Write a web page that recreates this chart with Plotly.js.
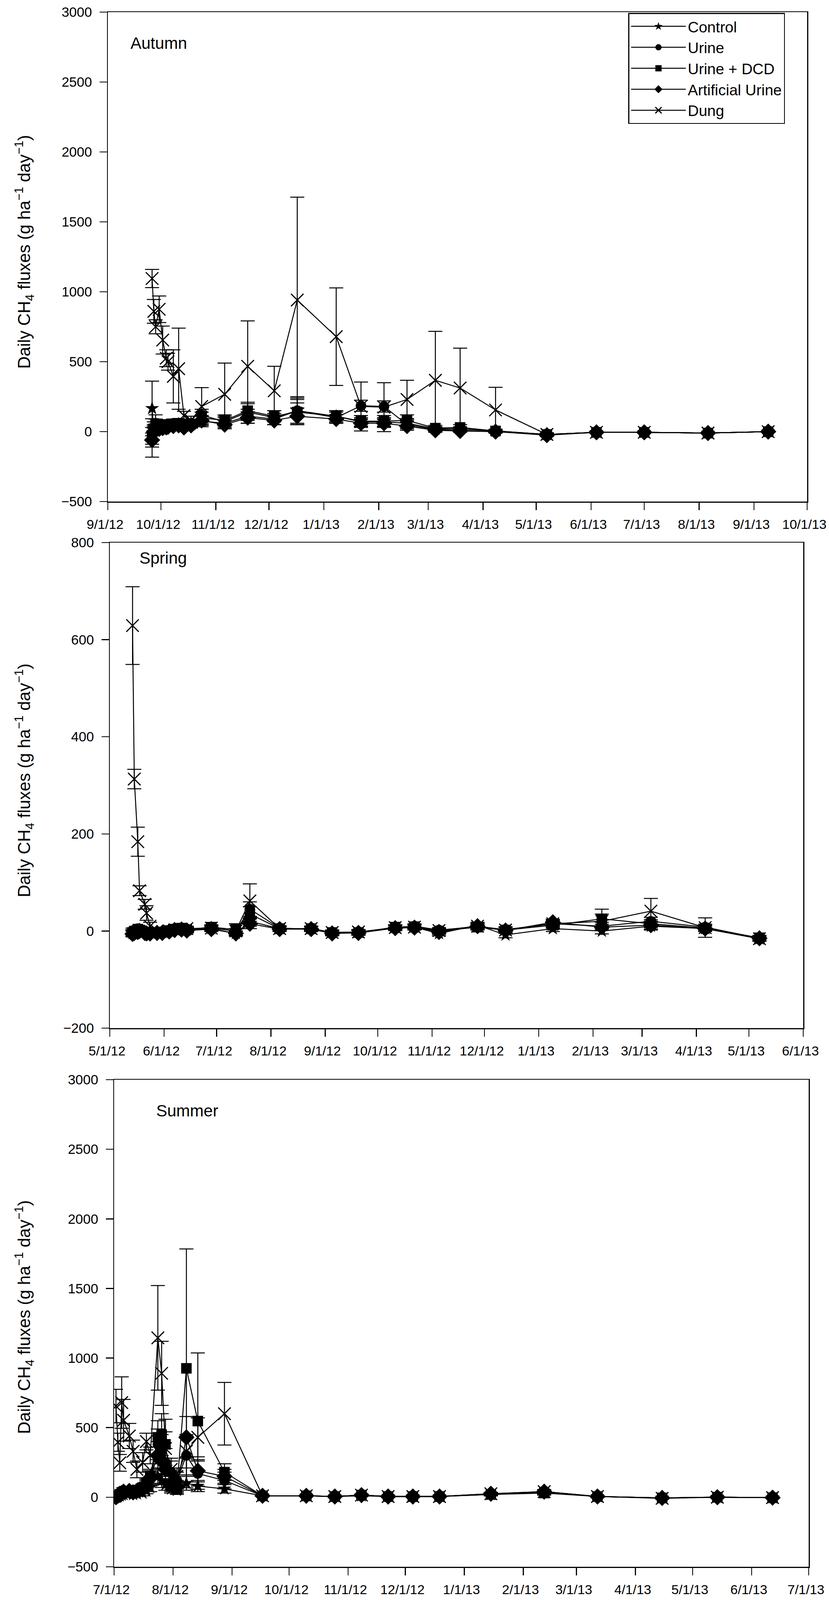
<!DOCTYPE html>
<html>
<head>
<meta charset="utf-8">
<script src="https://cdn.plot.ly/plotly-3.0.1.min.js"></script>
<style>
  html, body { margin: 0; padding: 0; background: #fff; }
  #plot { width: 2122px; height: 4100px; }
</style>
</head>
<body>
<div id="plot"></div>
<script>
"use strict";

// ── Series metadata ──
const SERIES_NAMES = ["Control", "Urine", "Urine + DCD", "Artificial Urine", "Dung"];
const SERIES_SYMBOLS = ["star", "circle", "square", "diamond", "x-thin-open"];

// ── Autumn ──
const AUTUMN_DATES = ["2012-09-26","2012-09-27","2012-09-28","2012-09-30","2012-10-02","2012-10-04",
    "2012-10-05","2012-10-08","2012-10-11","2012-10-14","2012-10-18","2012-10-24","2012-11-06",
    "2012-11-19","2012-12-04","2012-12-17","2013-01-08","2013-01-22","2013-02-04","2013-02-17",
    "2013-03-05","2013-03-19","2013-04-08","2013-05-07","2013-06-04","2013-07-01","2013-08-06","2013-09-09"];
const AUTUMN_CONTROL = [166, 10, 25, 30, 40, 35, 40, 45, 50, 40, 50, 75, 60, 110, 90, 150, 110, 70, 70, 60, 20, 20, 5, -20, -5, -5, -10, 0];
const AUTUMN_CONTROL_SE = [195, 30, 30, 25, 25, 25, 25, 25, 25, 20, 20, 40, 40, 50, 40, 90, 40, 30, 30, 30, 15, 15, 10, 10, 5, 5, 5, 5];
const AUTUMN_URINE = [-45, 30, 60, 40, 45, 50, 55, 60, 60, 45, 55, 120, 70, 140, 100, 150, 100, 185, 180, 50, 15, 10, 0, -20, -5, -5, -10, 0];
const AUTUMN_URINE_SE = [137, 40, 60, 30, 30, 30, 30, 30, 30, 25, 25, 40, 40, 60, 50, 100, 40, 40, 40, 30, 15, 10, 10, 10, 5, 5, 5, 5];
const AUTUMN_DCD = [-30, 20, 50, 35, 40, 45, 50, 55, 60, 40, 55, 100, 80, 150, 110, 140, 110, 75, 75, 80, 25, 30, 5, -20, -5, -5, -10, 0];
const AUTUMN_DCD_SE = [60, 30, 40, 25, 25, 25, 25, 25, 25, 20, 20, 40, 40, 60, 40, 90, 40, 40, 40, 40, 20, 20, 10, 10, 5, 5, 5, 5];
const AUTUMN_AU = [-60, 0, 40, 20, 25, 30, 35, 40, 45, 30, 45, 80, 50, 100, 80, 110, 90, 60, 60, 40, 10, 5, 0, -25, -5, -5, -10, 0];
const AUTUMN_AU_SE = [50, 25, 30, 20, 20, 20, 20, 20, 20, 20, 20, 30, 30, 40, 30, 60, 30, 30, 30, 30, 15, 10, 10, 10, 5, 5, 5, 5];
const AUTUMN_DUNG = [1095, 860, 750, 875, 655, 525, 500, 395, 450, 115, 80, 180, 267, 467, 292, 941, 679, 180, 175, 230, 367, 312, 155, -20, -5, -5, -10, 0];
const AUTUMN_DUNG_SE = [65, 85, 50, 95, 100, 60, 60, 190, 290, 30, 30, 135, 223, 325, 175, 736, 349, 175, 175, 137, 350, 285, 162, 10, 5, 5, 5, 5];

// ── Spring ──
const SPRING_DATES = ["2012-05-14","2012-05-15","2012-05-17","2012-05-18","2012-05-21","2012-05-22",
    "2012-05-24","2012-05-28","2012-05-31","2012-06-04","2012-06-07","2012-06-11","2012-06-14",
    "2012-06-28","2012-07-12","2012-07-20","2012-08-06","2012-08-24","2012-09-05","2012-09-20",
    "2012-10-11","2012-10-22","2012-11-05","2012-11-27","2012-12-13","2013-01-09","2013-02-06",
    "2013-03-06","2013-04-06","2013-05-07"];
const SPRING_CONTROL = [-5, -3, 0, 2, -2, -3, -4, -2, -3, 0, 3, 5, 2, 5, -5, 20, 5, 5, -3, -2, 7, 8, -5, 12, -8, 5, 0, 10, 5, -16];
const SPRING_CONTROL_SE = [6, 5, 5, 5, 5, 5, 5, 5, 5, 5, 5, 5, 5, 5, 5, 10, 5, 5, 5, 5, 5, 5, 5, 6, 6, 6, 6, 8, 6, 5];
const SPRING_URINE = [0, 2, 5, 3, 0, -2, -3, -2, -2, 0, 5, 6, 3, 7, 0, 45, 6, 4, -4, -3, 7, 10, 2, 9, 3, 15, 10, 20, 8, -15];
const SPRING_URINE_SE = [6, 5, 5, 5, 5, 5, 5, 5, 5, 5, 5, 5, 5, 5, 5, 15, 5, 5, 5, 5, 5, 5, 5, 6, 6, 6, 8, 8, 6, 5];
const SPRING_DCD = [-3, 0, 4, 2, -2, -3, -3, -3, -2, 1, 4, 6, 3, 8, 3, 35, 5, 5, -3, -3, 8, 9, 0, 8, 2, 12, 25, 15, 6, -14];
const SPRING_DCD_SE = [6, 5, 5, 5, 5, 5, 5, 5, 5, 5, 5, 5, 5, 5, 12, 15, 5, 5, 5, 5, 5, 5, 5, 6, 6, 6, 20, 8, 6, 5];
const SPRING_AU = [-6, -4, -2, 0, -4, -5, -5, -4, -4, -1, 2, 3, 1, 4, -5, 15, 4, 4, -5, -4, 6, 7, -2, 10, 1, 18, 8, 12, 5, -15];
const SPRING_AU_SE = [6, 5, 5, 5, 5, 5, 5, 5, 5, 5, 5, 5, 5, 5, 5, 10, 5, 5, 5, 5, 5, 5, 5, 6, 6, 6, 6, 8, 6, 5];
const SPRING_DUNG = [629, 313, 184, 83, 55, 37, 10, 0, -2, 0, 2, 3, 5, 6, 0, 62, 5, 5, -3, -2, 7, 8, 1, 10, 2, 15, 20, 41, 7, -16];
const SPRING_DUNG_SE = [80, 20, 30, 10, 10, 15, 8, 5, 5, 5, 5, 5, 5, 5, 5, 35, 5, 5, 5, 5, 5, 5, 5, 5, 5, 8, 15, 26, 20, 5];

// ── Summer ──
const SUMMER_DATES = ["2012-07-02","2012-07-03","2012-07-04","2012-07-05","2012-07-06","2012-07-09",
    "2012-07-11","2012-07-13","2012-07-16","2012-07-18","2012-07-20","2012-07-24","2012-07-26",
    "2012-07-28","2012-07-31","2012-08-03","2012-08-08","2012-08-14","2012-08-28","2012-09-17",
    "2012-10-10","2012-10-25","2012-11-08","2012-11-22","2012-12-05","2012-12-19","2013-01-15",
    "2013-02-12","2013-03-12","2013-04-15","2013-05-14","2013-06-12"];
const SUMMER_CONTROL = [0, 5, 10, 15, 20, 25, 20, 25, 30, 45, 70, 150, 120, 90, 60, 50, 100, 80, 60, 10, 10, 5, 10, 5, 5, 5, 20, 40, 5, -5, 0, -3];
const SUMMER_CONTROL_SE = [10, 10, 10, 10, 15, 15, 15, 15, 20, 20, 30, 60, 50, 40, 30, 30, 50, 40, 30, 5, 5, 5, 5, 5, 5, 5, 10, 15, 5, 5, 5, 5];
const SUMMER_URINE = [5, 15, 30, 40, 45, 50, 40, 45, 60, 90, 130, 380, 330, 250, 180, 120, 300, 170, 120, 10, 10, 5, 15, 5, 5, 5, 25, 35, 5, -5, 0, -3];
const SUMMER_URINE_SE = [10, 10, 15, 15, 15, 20, 15, 20, 25, 30, 50, 110, 120, 100, 80, 60, 140, 90, 60, 5, 5, 5, 5, 5, 5, 5, 10, 15, 5, 5, 5, 5];
const SUMMER_DCD = [0, 10, 20, 35, 40, 45, 40, 50, 70, 100, 150, 430, 450, 380, 80, 60, 926, 547, 180, 10, 10, 5, 15, 5, 5, 5, 20, 30, 5, -5, 0, -3];
const SUMMER_DCD_SE = [10, 10, 15, 15, 15, 20, 15, 20, 25, 30, 50, 120, 150, 180, 40, 30, 858, 490, 60, 5, 5, 5, 5, 5, 5, 5, 10, 15, 5, 5, 5, 5];
const SUMMER_AU = [0, 10, 25, 30, 40, 45, 35, 45, 55, 80, 140, 300, 260, 200, 100, 80, 430, 190, 150, 10, 10, 5, 15, 5, 5, 5, 25, 40, 5, -5, 0, -3];
const SUMMER_AU_SE = [10, 10, 15, 15, 15, 20, 15, 20, 25, 30, 50, 100, 90, 80, 50, 40, 150, 80, 50, 5, 5, 5, 5, 5, 5, 5, 10, 15, 5, 5, 5, 5];
const SUMMER_DUNG = [655, 395, 247, 680, 553, 440, 330, 200, 250, 400, 300, 1145, 890, 350, 200, 150, 330, 430, 600, 10, 10, 5, 15, 5, 5, 5, 25, 40, 5, -8, 0, -3];
const SUMMER_DUNG_SE = [120, 65, 60, 185, 150, 90, 80, 60, 70, 60, 60, 376, 230, 120, 80, 60, 120, 140, 225, 5, 5, 5, 5, 5, 5, 5, 10, 10, 5, 5, 5, 5];

const FONT = "Liberation Sans, Arial, sans-serif";
const W = 2122, H = 4100;

// Panel frames in page pixels: [left, right, top, bottom]
const PANELS = [
    { frame: [276, 2066, 31, 1284],   xr: ["2012-09-01", "2013-10-01"], yr: [-500, 3000], dy: 500, label: "Autumn", lx: 332, ly: 110,  ty: 645 },
    { frame: [281, 2056, 1389, 2632], xr: ["2012-05-01", "2013-06-01"], yr: [-200, 800],  dy: 200, label: "Spring", lx: 355, ly: 1428, ty: 1998 },
    { frame: [292, 2070, 2764, 4011], xr: ["2012-07-01", "2013-07-01"], yr: [-500, 3000], dy: 500, label: "Summer", lx: 398, ly: 2843, ty: 3372 },
];

const DATA = [
    { dates: AUTUMN_DATES,
      vals: [AUTUMN_CONTROL, AUTUMN_URINE, AUTUMN_DCD, AUTUMN_AU, AUTUMN_DUNG],
      errs: [AUTUMN_CONTROL_SE, AUTUMN_URINE_SE, AUTUMN_DCD_SE, AUTUMN_AU_SE, AUTUMN_DUNG_SE] },
    { dates: SPRING_DATES,
      vals: [SPRING_CONTROL, SPRING_URINE, SPRING_DCD, SPRING_AU, SPRING_DUNG],
      errs: [SPRING_CONTROL_SE, SPRING_URINE_SE, SPRING_DCD_SE, SPRING_AU_SE, SPRING_DUNG_SE] },
    { dates: SUMMER_DATES,
      vals: [SUMMER_CONTROL, SUMMER_URINE, SUMMER_DCD, SUMMER_AU, SUMMER_DUNG],
      errs: [SUMMER_CONTROL_SE, SUMMER_URINE_SE, SUMMER_DCD_SE, SUMMER_AU_SE, SUMMER_DUNG_SE] },
];

const traces = [];
DATA.forEach((panel, p) => {
    const sfx = p === 0 ? "" : String(p + 1);
    SERIES_NAMES.forEach((name, s) => {
        const isX = SERIES_SYMBOLS[s] === "x-thin-open";
        traces.push({
            type: "scatter", mode: "lines+markers",
            x: panel.dates, y: panel.vals[s],
            xaxis: "x" + sfx, yaxis: "y" + sfx,
            name: name, showlegend: p === 0, legendgroup: name,
            line: { color: "#000", width: 2.5 },
            marker: isX
                ? { symbol: "x-thin-open", size: 32, color: "#000", line: { color: "#000", width: 3 } }
                : { symbol: SERIES_SYMBOLS[s], size: s === 3 ? 32 : 27, color: "#000", line: { width: 0 } },
            error_y: { type: "data", array: panel.errs[s], visible: true,
                       color: "#000", thickness: 2.5, width: 18 },
        });
    });
});

const layout = {
    width: W, height: H,
    margin: { l: 0, r: 0, t: 0, b: 0 },
    paper_bgcolor: "#fff", plot_bgcolor: "#fff",
    font: { family: FONT, color: "#000", size: 35 },
    showlegend: true,
    legend: {
        x: 1608 / W, y: 1 - 33 / H, xanchor: "left", yanchor: "top",
        xref: "paper", yref: "paper",
        bgcolor: "#fff", bordercolor: "#000", borderwidth: 2.5,
        font: { family: FONT, size: 39, color: "#000" },
        itemwidth: 140, tracegroupgap: 0,
    },
    annotations: [],
};

PANELS.forEach((pn, p) => {
    const sfx = p === 0 ? "" : String(p + 1);
    const [l, r, t, b] = pn.frame;
    const axCommon = {
        showline: true, linecolor: "#000", linewidth: 2.5, mirror: true,
        ticks: "outside", ticklen: 19, tickwidth: 2.5, tickcolor: "#000",
        showgrid: false, zeroline: false, ticklabeloverflow: "allow",
    };
    // x labels sit a little left of their ticks, as in the original figure
    layout["xaxis" + sfx] = Object.assign({}, axCommon, {
        type: "date", domain: [l / W, r / W], anchor: "y" + sfx,
        range: pn.xr, tick0: pn.xr[0], dtick: "M1",
        tickformat: "%-m/%-d/%y", ticklabelstandoff: 8, ticklabelshift: -7,
        tickfont: { family: FONT, size: 34, color: "#000" },
    });
    layout["yaxis" + sfx] = Object.assign({}, axCommon, {
        domain: [1 - b / H, 1 - t / H], anchor: "x" + sfx,
        range: pn.yr, dtick: pn.dy, ticklabelstandoff: 12,
        tickformat: "d",
        tickfont: { family: FONT, size: 35, color: "#000" },
    });
    layout.annotations.push({
        xref: "paper", yref: "paper", x: pn.lx / W, y: 1 - pn.ly / H,
        xanchor: "left", yanchor: "middle", showarrow: false,
        text: pn.label, font: { family: FONT, size: 42, color: "#000" },
    });
    layout.annotations.push({
        xref: "paper", yref: "paper", x: 62 / W, y: 1 - pn.ty / H,
        xanchor: "center", yanchor: "middle", showarrow: false, textangle: -90,
        text: "Daily CH<sub>4</sub> fluxes (g ha<sup>\u22121</sup> day<sup>\u22121</sup>)",
        font: { family: FONT, size: 44, color: "#000" },
    });
});

Plotly.newPlot("plot", traces, layout, { displayModeBar: false, staticPlot: true });
</script>
</body>
</html>
